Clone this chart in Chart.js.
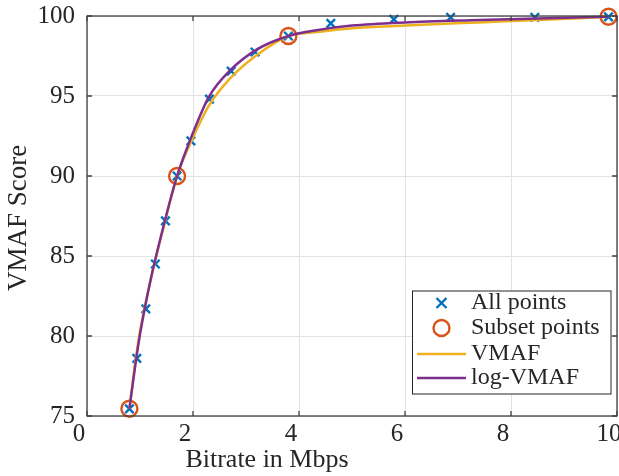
<!DOCTYPE html>
<html>
<head>
<meta charset="utf-8">
<script src="https://cdn.jsdelivr.net/npm/chart.js@4"></script>
<style>
  html, body { margin: 0; padding: 0; background: #fff; }
  #wrap { width: 619px; height: 476px; position: relative; }
</style>
</head>
<body>
<div id="wrap"><canvas id="chart-vmaf"></canvas></div>
<script>
// measured points
const bitrate_all = [0.80, 0.94, 1.11, 1.29, 1.48, 1.70, 1.96, 2.31, 2.72, 3.17, 3.80, 4.60, 5.79, 6.86, 8.45, 9.84];
const vmaf_all = [75.45, 78.6, 81.7, 84.5, 87.2, 90.0, 92.2, 94.8, 96.55, 97.75, 98.75, 99.54, 99.79, 99.92, 99.92, 99.95];
const bitrate_subset = [0.80, 1.70, 3.80, 9.84];
const vmaf_subset = [75.45, 90.0, 98.75, 99.95];

// fitted curves
const bitrate_curve = [0.80, 0.90, 1.00, 1.20, 1.40, 1.70, 2.00, 2.30, 2.70, 3.20, 3.80, 4.30, 5.00, 6.00, 7.40, 8.50, 9.84];
const vmaf_fit = [75.45, 78.1, 80.3, 83.5, 86.2, 90.0, 92.4, 94.4, 96.1, 97.55, 98.75, 98.98, 99.23, 99.4, 99.6, 99.75, 99.95];
const logvmaf_fit = [75.45, 77.9, 80.1, 83.5, 86.3, 90.0, 92.7, 94.95, 96.6, 97.9, 98.75, 99.1, 99.4, 99.6, 99.75, 99.85, 99.95];

const x_ticks = [0, 2, 4, 6, 8, 10];
const y_ticks = [75, 80, 85, 90, 95, 100];

const serif = "'Liberation Serif', 'Times New Roman', serif";
const axisColor = "#262626";

const toXY = (xs, ys) => xs.map((x, i) => ({ x: x, y: ys[i] }));

// box, inward ticks, axis titles, legend (MATLAB look)
const matlabAxes = {
    id: "matlabAxes",
    afterDatasetsDraw(chart) {
        const ctx = chart.ctx;
        const a = chart.chartArea;
        const xs = chart.scales.x, ys = chart.scales.y;
        ctx.save();
        ctx.strokeStyle = "#404040";
        ctx.lineWidth = 1.3;
        ctx.strokeRect(a.left, a.top, a.right - a.left, a.bottom - a.top);
        ctx.beginPath();
        x_ticks.forEach(v => {
            const px = xs.getPixelForValue(v);
            ctx.moveTo(px, a.bottom); ctx.lineTo(px, a.bottom - 5);
            ctx.moveTo(px, a.top); ctx.lineTo(px, a.top + 5);
        });
        y_ticks.forEach(v => {
            const py = ys.getPixelForValue(v);
            ctx.moveTo(a.left, py); ctx.lineTo(a.left + 5, py);
            ctx.moveTo(a.right, py); ctx.lineTo(a.right - 5, py);
        });
        ctx.stroke();

        // axis titles
        ctx.fillStyle = axisColor;
        ctx.font = "26px " + serif;
        ctx.textAlign = "center";
        ctx.textBaseline = "middle";
        ctx.fillText("Bitrate in Mbps", 267, 460);
        ctx.translate(19, (a.top + a.bottom) / 2 + 2);
        ctx.rotate(-Math.PI / 2);
        ctx.font = "27px " + serif;
        ctx.fillText("VMAF Score", 0, 0);
        ctx.restore();

        // legend
        ctx.save();
        const bx = 412.5, by = 291, bw = 198.5, bh = 103;
        ctx.fillStyle = "#fff";
        ctx.fillRect(bx, by, bw, bh);
        ctx.strokeStyle = axisColor;
        ctx.lineWidth = 1;
        ctx.strokeRect(bx, by, bw, bh);
        const rows = [303, 328, 354, 378];
        const sx = 441.5;
        chart.data.datasets.forEach((ds, i) => {
            const y = rows[i];
            ctx.strokeStyle = ds.borderColor;
            ctx.lineWidth = ds.borderWidth || 2;
            ctx.beginPath();
            if (ds.pointStyle === "crossRot") {
                const r = 5;
                ctx.moveTo(sx - r, y - r); ctx.lineTo(sx + r, y + r);
                ctx.moveTo(sx - r, y + r); ctx.lineTo(sx + r, y - r);
            } else if (ds.pointStyle === "circle") {
                ctx.arc(sx, y, 8, 0, Math.PI * 2);
            } else {
                ctx.moveTo(417, y); ctx.lineTo(466, y);
            }
            ctx.stroke();
            ctx.fillStyle = axisColor;
            ctx.font = "24px " + serif;
            ctx.textAlign = "left";
            ctx.textBaseline = "middle";
            ctx.fillText(ds.label, 471, y);
        });
        ctx.restore();
    }
};

const chart_vmaf = document.getElementById("chart-vmaf");

new Chart(chart_vmaf, {
    type: "scatter",
    data: {
        datasets: [{
            label: "All points",
            data: toXY(bitrate_all, vmaf_all),
            pointStyle: "crossRot",
            pointRadius: 6,
            pointHoverRadius: 6,
            borderColor: "#0072BD",
            backgroundColor: "#0072BD",
            borderWidth: 2.4,
            showLine: false,
            clip: false,
            order: 4
        }, {
            label: "Subset points",
            data: toXY(bitrate_subset, vmaf_subset),
            pointStyle: "circle",
            pointRadius: 8,
            pointHoverRadius: 8,
            borderColor: "#D95319",
            backgroundColor: "rgba(0,0,0,0)",
            borderWidth: 2.4,
            showLine: false,
            clip: false,
            order: 3
        }, {
            label: "VMAF",
            data: toXY(bitrate_curve, vmaf_fit),
            showLine: true,
            pointRadius: 0,
            borderColor: "#EDB120",
            backgroundColor: "#EDB120",
            borderWidth: 2.5,
            cubicInterpolationMode: "monotone",
            clip: false,
            order: 2
        }, {
            label: "log-VMAF",
            data: toXY(bitrate_curve, logvmaf_fit),
            showLine: true,
            pointRadius: 0,
            borderColor: "#7E2F8E",
            backgroundColor: "#7E2F8E",
            borderWidth: 2.5,
            cubicInterpolationMode: "monotone",
            clip: false,
            order: 1
        }]
    },
    options: {
        responsive: true,
        maintainAspectRatio: false,
        animation: false,
        events: [],
        layout: { autoPadding: false, padding: { left: 0, right: 2, top: 16, bottom: 0 } },
        plugins: {
            legend: { display: false },
            tooltip: { enabled: false }
        },
        scales: {
            x: {
                type: "linear",
                min: 0,
                max: 10,
                afterBuildTicks: s => { s.ticks = x_ticks.map(v => ({ value: v })); },
                afterFit: s => { s.height = 60; s.paddingLeft = 0; s.paddingRight = 0; },
                grid: { color: "#e3e3e3", lineWidth: 1, drawTicks: false },
                border: { display: false },
                ticks: {
                    font: { family: serif, size: 25 },
                    color: axisColor,
                    padding: 3,
                    labelOffset: -8,
                    maxRotation: 0,
                    autoSkip: false
                }
            },
            y: {
                type: "linear",
                min: 75,
                max: 100,
                afterBuildTicks: s => { s.ticks = y_ticks.map(v => ({ value: v })); },
                afterFit: s => { s.width = 87; s.paddingTop = 0; s.paddingBottom = 0; },
                grid: { color: "#e3e3e3", lineWidth: 1, drawTicks: false },
                border: { display: false },
                ticks: {
                    font: { family: serif, size: 25 },
                    color: axisColor,
                    padding: 12,
                    autoSkip: false
                }
            }
        }
    },
    plugins: [matlabAxes]
});
</script>
</body>
</html>
